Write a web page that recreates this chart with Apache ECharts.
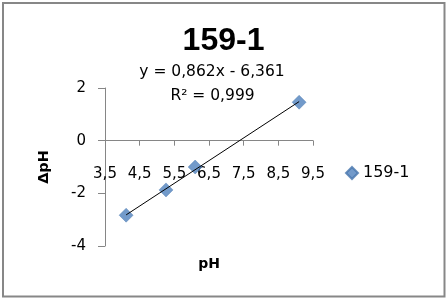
<!DOCTYPE html>
<html><head><meta charset="utf-8">
<script src="https://cdn.jsdelivr.net/npm/echarts@6/dist/echarts.min.js"></script>
<style>html,body{margin:0;padding:0;background:#fff}#c{width:447px;height:301px}</style>
</head><body><div id="c"></div>
<script>
const chartTitle = '159-1';
const seriesName = '159-1';
const phValues = [4.11, 5.26, 6.10, 9.10];
const deltaPhValues = [-2.83, -1.87, -1.00, 1.46];
const trendSlope = 0.862;
const trendIntercept = -6.361;
const trendR2 = 0.999;
const xAxisRange = [3.5, 9.5];
const xTickStep = 1;
const yAxisRange = [-4, 2];
const yTickStep = 2;
const xAxisTitle = 'pH';
const yAxisTitle = '\u0394pH';

const fmt = v => String(v).replace('.', ',');
const eqText = 'y = ' + fmt(trendSlope) + 'x - ' + fmt(Math.abs(trendIntercept));
const r2Text = 'R\u00b2 = ' + fmt(trendR2);

const xMinData = Math.min(...phValues), xMaxData = Math.max(...phValues);
const trendData = [[xMinData, trendSlope * xMinData + trendIntercept], [xMaxData, trendSlope * xMaxData + trendIntercept]];
const scatterData = phValues.map((x, i) => [x, deltaPhValues[i]]);

const axisColor = '#868686';
const small = '"DejaVu Sans", sans-serif';
const gridTop = 88, gridBottomPx = 246;
// x axis sits at y = 0: shift it up from the grid bottom by the pixel distance of y=0
const zeroFrac = (yAxisRange[1] - 0) / (yAxisRange[1] - yAxisRange[0]);
const xAxisShift = (gridBottomPx - gridTop) * (1 - zeroFrac);

const chart = echarts.init(document.getElementById('c'), null, {renderer: 'canvas'});
chart.setOption({
  animation: false,
  backgroundColor: '#fff',
  title: {
    text: chartTitle, left: 'center', top: 25.5, padding: 0,
    textStyle: {fontFamily: '"Liberation Sans", Arial, sans-serif', fontWeight: 'bold', fontSize: 32, color: '#000'}
  },
  graphic: [
    {type: 'rect', shape: {x: 3, y: 3, width: 441.5, height: 293.5}, style: {fill: 'none', stroke: '#878787', lineWidth: 2}, silent: true},
    {type: 'text', x: 212, y: 72, style: {text: eqText, font: '15.5px ' + small, fill: '#000', align: 'center', verticalAlign: 'middle'}},
    {type: 'text', x: 212.5, y: 96, style: {text: r2Text, font: '15.5px ' + small, fill: '#000', align: 'center', verticalAlign: 'middle'}}
  ],
  legend: {
    data: [{name: seriesName, icon: 'diamond'}],
    left: 345, top: 165, padding: 0,
    itemWidth: 12, itemHeight: 12, itemGap: 5,
    textStyle: {fontFamily: small, fontSize: 16, color: '#000', lineHeight: 16}
  },
  grid: {left: 105, right: 134, top: gridTop, bottom: 301 - gridBottomPx, containLabel: false, outerBoundsMode: 'none'},
  xAxis: {
    type: 'value', min: xAxisRange[0], max: xAxisRange[1], interval: xTickStep,
    position: 'bottom', offset: -xAxisShift,
    name: xAxisTitle, nameLocation: 'middle', nameGap: 117,
    nameTextStyle: {fontFamily: small, fontWeight: 'bold', fontSize: 14, color: '#000'},
    axisLine: {onZero: false, lineStyle: {color: axisColor, width: 1}},
    axisTick: {show: true, inside: false, length: 5, lineStyle: {color: axisColor}},
    axisLabel: {margin: 26, formatter: v => fmt(v), fontFamily: small, fontSize: 15, color: '#000'},
    splitLine: {show: false}
  },
  yAxis: {
    type: 'value', min: yAxisRange[0], max: yAxisRange[1], interval: yTickStep,
    name: yAxisTitle, nameLocation: 'middle', nameGap: 53, nameRotate: 90,
    nameTextStyle: {fontFamily: small, fontWeight: 'bold', fontSize: 14.5, color: '#000'},
    axisLine: {show: true, onZero: false, lineStyle: {color: axisColor, width: 1}},
    axisTick: {show: true, inside: false, length: 7, lineStyle: {color: axisColor}},
    axisLabel: {margin: 19, formatter: v => fmt(v), fontFamily: small, fontSize: 15, color: '#000'},
    splitLine: {show: false}
  },
  series: [
    {
      name: seriesName, type: 'scatter', data: scatterData,
      symbol: 'diamond', symbolSize: 14,
      itemStyle: {color: '#4F81BD', borderColor: '#4776ad', borderWidth: 0.5}
    },
    {
      name: 'trend', type: 'line', data: trendData, symbol: 'none', z: 5,
      lineStyle: {color: '#000', width: 1}, silent: true
    }
  ]
});
</script>
</body></html>
